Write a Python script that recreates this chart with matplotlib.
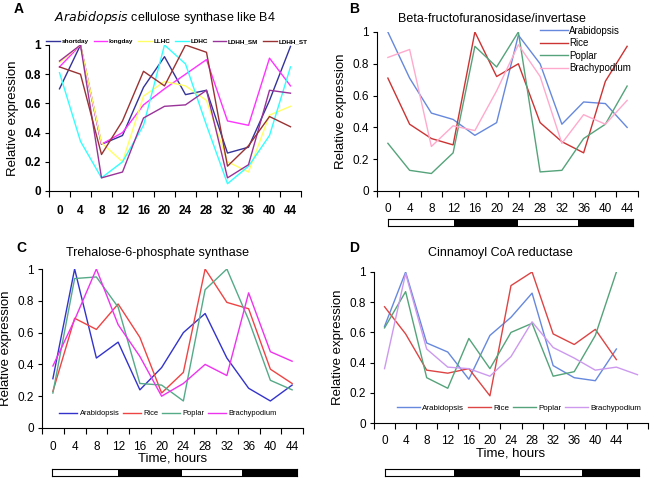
import matplotlib
matplotlib.use("Agg")
import matplotlib.pyplot as plt
import numpy as np

plt.rcParams['font.family'] = ['Liberation Sans', 'DejaVu Sans']

W, H = 661, 479

hours = [0, 4, 8, 12, 16, 20, 24, 28, 32, 36, 40, 44]

# Panel A - Arabidopsis cellulose synthase like B4
a_names = ["shortday", "longday", "LLHC", "LDHC", "LDHH_SM", "LDHH_ST"]
a_colors = ["#333399", "#ff33ff", "#ffff66", "#33ffff", "#993399", "#993333"]
a_shortday = [0.70, 1.00, 0.32, 0.38, 0.71, 0.92, 0.66, 0.69, 0.26, 0.30, 0.62, 0.99]
a_longday = [0.85, 1.00, 0.32, 0.40, 0.59, 0.70, 0.80, 0.90, 0.48, 0.45, 0.91, 0.72]
a_llhc = [0.88, 1.00, 0.33, 0.20, 0.65, 0.75, 0.72, 0.62, 0.20, 0.13, 0.52, 0.58]
a_ldhc = [0.81, 0.34, 0.09, 0.20, 0.45, 1.00, 0.87, 0.45, 0.05, 0.17, 0.38, 0.85]
a_ldhh_sm = [0.89, 1.00, 0.09, 0.13, 0.50, 0.58, 0.59, 0.69, 0.09, 0.18, 0.69, 0.67]
a_ldhh_st = [0.85, 0.80, 0.25, 0.48, 0.82, 0.72, 1.00, 0.95, 0.17, 0.31, 0.51, 0.44]

species = ["Arabidopsis", "Rice", "Poplar", "Brachypodium"]

# Panel B - Beta-fructofuranosidase/invertase
b_colors = ["#6688dd", "#cc3333", "#55a37a", "#ffaacc"]
b_arab = [1.00, 0.71, 0.49, 0.45, 0.35, 0.43, 0.98, 0.80, 0.42, 0.56, 0.55, 0.40]
b_rice = [0.71, 0.42, 0.33, 0.29, 1.00, 0.72, 0.80, 0.43, 0.31, 0.24, 0.69, 0.91]
b_poplar = [0.30, 0.13, 0.11, 0.24, 0.91, 0.78, 1.00, 0.12, 0.13, 0.33, 0.42, 0.66]
b_brachy = [0.84, 0.89, 0.28, 0.41, 0.38, 0.63, 0.92, 0.72, 0.30, 0.48, 0.42, 0.57]

# Panel C - Trehalose-6-phosphate synthase
c_colors = ["#3333cc", "#ee4444", "#55aa88", "#ee33ee"]
c_arab = [0.31, 1.00, 0.44, 0.54, 0.24, 0.38, 0.60, 0.72, 0.44, 0.25, 0.17, 0.27]
c_rice = [0.23, 0.69, 0.62, 0.78, 0.57, 0.22, 0.35, 1.00, 0.79, 0.75, 0.37, 0.28]
c_poplar = [0.22, 0.94, 0.95, 0.76, 0.28, 0.27, 0.17, 0.87, 1.00, 0.68, 0.30, 0.24]
c_brachy = [0.39, 0.68, 1.00, 0.65, 0.45, 0.20, 0.28, 0.40, 0.33, 0.85, 0.48, 0.42]

# Panel D - Cinnamoyl CoA reductase (Brachypodium has one extra point)
d_colors = ["#6688dd", "#dd4444", "#55a37a", "#cc99ee"]
d_arab = [0.64, 1.00, 0.53, 0.47, 0.29, 0.58, 0.70, 0.86, 0.38, 0.30, 0.28, 0.49]
d_rice = [0.77, 0.59, 0.35, 0.33, 0.36, 0.18, 0.91, 1.00, 0.59, 0.52, 0.62, 0.42]
d_poplar = [0.63, 0.87, 0.30, 0.23, 0.56, 0.36, 0.60, 0.66, 0.31, 0.34, 0.58, 1.00]
d_brachy = [0.36, 0.99, 0.49, 0.37, 0.36, 0.31, 0.44, 0.67, 0.50, 0.43, 0.35, 0.37, 0.32]

# light/dark bar boundaries (fraction of bar length)
bar_edges = [0, 0.27, 0.53, 0.776, 1.0]
bar_fill = ["white", "black", "white", "black"]

fig = plt.figure(figsize=(W / 100, H / 100), dpi=100)


def px_axes(x0, y0, x1, y1):
    # pixel box (top-left origin) -> figure axes
    return fig.add_axes([x0 / W, 1 - y1 / H, (x1 - x0) / W, (y1 - y0) / H])


def setup(ax, ncat, tick_kw, xpad):
    ax.set_xlim(-0.5, ncat - 0.5)
    ax.set_ylim(0, 1)
    for s in ["top", "right"]:
        ax.spines[s].set_visible(False)
    for s in ["left", "bottom"]:
        ax.spines[s].set_linewidth(0.8)
    ax.set_xticks(np.arange(ncat + 1) - 0.5)
    ax.set_xticklabels([])
    ax.set_xticks(np.arange(len(hours)), minor=True)
    ax.set_xticklabels([str(h) for h in hours], minor=True, **tick_kw)
    ax.tick_params(axis="x", which="minor", length=0, pad=xpad)
    ax.tick_params(axis="x", which="major", length=4, width=0.8)
    ax.set_yticks([0, 0.2, 0.4, 0.6, 0.8, 1.0])
    ax.set_yticklabels(["0", "0.2", "0.4", "0.6", "0.8", "1"], **tick_kw)
    ax.tick_params(axis="y", length=3, width=0.8, pad=3)
    ax.set_ylabel("Relative expression", fontsize=9.5, labelpad=4)


def day_bar(x0, x1, y0, y1):
    bx = px_axes(x0, y0, x1, y1)
    for i in range(4):
        bx.axvspan(bar_edges[i], bar_edges[i + 1], color=bar_fill[i], lw=0)
    bx.set_xlim(0, 1)
    bx.set_ylim(0, 1)
    bx.set_xticks([])
    bx.set_yticks([])
    for s in bx.spines.values():
        s.set_linewidth(0.8)


# ---- A ----
axA = px_axes(49, 45, 301, 191)
for vals, name, col in zip([a_shortday, a_longday, a_llhc, a_ldhc, a_ldhh_sm, a_ldhh_st],
                           a_names, a_colors):
    axA.plot(range(len(vals)), vals, color=col, lw=1.0, label=name)
setup(axA, 12, dict(fontsize=8.5, fontweight="bold"), 10)
axA.legend(loc="lower left", bbox_to_anchor=(-0.01, 1.005), ncol=6, frameon=False,
           prop=dict(size=4.6, weight="bold"), handlelength=2.1,
           handletextpad=0.3, columnspacing=0.75, borderpad=0, borderaxespad=0)
fig.text(165 / W, 1 - 17 / H, "$\\it{Arabidopsis}$ cellulose synthase like B4",
         ha="center", va="center", fontsize=9)
fig.text(14 / W, 1 - 9 / H, "A", fontsize=10, fontweight="bold", va="center")

# ---- B ----
axB = px_axes(377, 32, 638, 191)
for vals, name, col in zip([b_arab, b_rice, b_poplar, b_brachy], species, b_colors):
    axB.plot(range(len(vals)), vals, color=col, lw=1.0, label=name)
setup(axB, 12, dict(fontsize=8.5), 9)
axB.legend(loc="upper left", bbox_to_anchor=(163 / 261, 1.04), frameon=False,
           fontsize=7, handlelength=2.9, handletextpad=0.1, labelspacing=0.25,
           borderpad=0, borderaxespad=0)
fig.text(492 / W, 1 - 19 / H, "Beta-fructofuranosidase/invertase",
         ha="center", va="center", fontsize=9)
fig.text(349 / W, 1 - 9 / H, "B", fontsize=10, fontweight="bold", va="center")
day_bar(388, 633, 219, 226)

# ---- C ----
axC = px_axes(42, 269, 303, 428)
for vals, name, col in zip([c_arab, c_rice, c_poplar, c_brachy], species, c_colors):
    axC.plot(range(len(vals)), vals, color=col, lw=1.0, label=name)
setup(axC, 12, dict(fontsize=8.5), 9)
axC.set_xlabel("Time, hours", fontsize=9.5, labelpad=0)
axC.legend(loc="center", bbox_to_anchor=(126 / 261, 0.09), ncol=4, frameon=False,
           fontsize=5.4, handlelength=2.4, handletextpad=0.3,
           columnspacing=0.5, borderpad=0)
fig.text(158 / W, 1 - 253 / H, "Trehalose-6-phosphate synthase",
         ha="center", va="center", fontsize=9)
fig.text(16 / W, 1 - 248 / H, "C", fontsize=10, fontweight="bold", va="center")
day_bar(52, 297, 469, 476)

# ---- D ----
axD = px_axes(374, 272, 648, 423)
for vals, name, col in zip([d_arab, d_rice, d_poplar, d_brachy], species, d_colors):
    axD.plot(range(len(vals)), vals, color=col, lw=1.0, label=name)
setup(axD, 13, dict(fontsize=8.5), 9)
axD.set_xlabel("Time, hours", fontsize=9.5, labelpad=0)
axD.legend(loc="center", bbox_to_anchor=(145 / 274, 0.1), ncol=4, frameon=False,
           fontsize=5.8, handlelength=2.8, handletextpad=0.3,
           columnspacing=0.5, borderpad=0)
fig.text(500 / W, 1 - 253 / H, "Cinnamoyl CoA reductase",
         ha="center", va="center", fontsize=9)
fig.text(349 / W, 1 - 248 / H, "D", fontsize=10, fontweight="bold", va="center")
day_bar(385, 639, 469, 476)

fig.savefig("out.png", dpi=100)
